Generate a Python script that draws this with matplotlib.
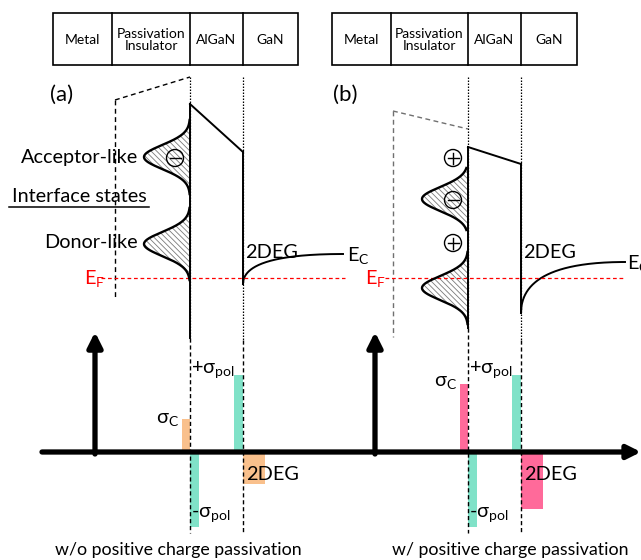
import numpy as np
import matplotlib
matplotlib.use("Agg")
import matplotlib.pyplot as plt
from matplotlib.patches import Circle, Rectangle

plt.rcParams['font.family'] = ['Lato', 'DejaVu Sans']
plt.rcParams['hatch.color'] = '#7a7a7a'
plt.rcParams['hatch.linewidth'] = 0.6

# ---------------- data ----------------
layers = ["Metal", "Passivation\nInsulator", "AlGaN", "GaN"]
panel_labels = ["(a)", "(b)"]
captions = ["w/o positive charge passivation", "w/ positive charge passivation"]
# charge bars (pixel heights, + up / - down): sigma_c, -sigma_pol, +sigma_pol, 2DEG
charge_names = ["σc", "-σpol", "+σpol", "2DEG"]
charges_a = [33, -75, 77, -32]
charges_b = [68, -75, 77, -57]
charge_colors_a = ["#F9C08C", "#80E2C8", "#80E2C8", "#F9C08C"]
charge_colors_b = ["#FF6A9A", "#80E2C8", "#80E2C8", "#FF6A9A"]
# interface state gaussians: (centre y, amplitude, half extent)
states_a = [(157, 46, 37), (244, 46, 36)]
states_b = [(199, 46, 31), (288, 46, 36)]
signs_a = [("−", 158)]
signs_b = [("+", 158), ("−", 200), ("+", 243)]

# ---------------- figure ----------------
fig = plt.figure(figsize=(6.41, 5.60), dpi=100)
ax = fig.add_axes([0, 0, 1, 1])
ax.set_xlim(0, 641)
ax.set_ylim(560, 0)
ax.axis('off')

FS = 12.8
FS_SIDE = 14.3


def layer_box(x_edges, y0=13, y1=65):
    ax.add_patch(Rectangle((x_edges[0], y0), x_edges[-1] - x_edges[0], y1 - y0,
                           fill=False, lw=1.2, ec='black'))
    for xe in x_edges[1:-1]:
        ax.plot([xe, xe], [y0, y1], color='black', lw=1.2)
    for i, name in enumerate(layers):
        xc = (x_edges[i] + x_edges[i + 1]) / 2
        ax.text(xc, (y0 + y1) / 2 + 1, name, ha='center', va='center',
                fontsize=10, linespacing=1.05)


def gaussian(xi, yc, amp, half, sig=12.0):
    y = np.linspace(yc - half, yc + half, 200)
    x = xi - amp * np.exp(-0.5 * ((y - yc) / sig) ** 2)
    ax.fill_betweenx(y, x, xi, facecolor='white', edgecolor='#7a7a7a',
                     hatch='\\\\\\\\\\\\', lw=0)
    ax.plot(x, y, color='black', lw=1.7)


def sign_circle(x, y, s):
    ax.add_patch(Circle((x, y), 8.5, fill=False, lw=1.0, ec='black', zorder=4))
    ax.plot([x - 5.5, x + 5.5], [y, y], color='black', lw=1.0, zorder=4)
    if s == "+":
        ax.plot([x, x], [y - 5.5, y + 5.5], color='black', lw=1.0, zorder=4)


def ec_curve(x0, y0, x1, y1):
    t = np.linspace(0, 1, 200)
    f = 2 * np.sqrt(t) - t
    ax.plot(x0 + (x1 - x0) * t, y0 + (y1 - y0) * f, color='black', lw=1.4)


def charge_bars(xi, xg, vals, cols, yaxis=452):
    specs = [(xi - 8, 8), (xi, 9), (xg - 9, 9), (xg, 22)]
    for (x, w), v, c in zip(specs, vals, cols):
        ax.add_patch(Rectangle((x, yaxis), w, -v, color=c, lw=0, zorder=1))


def panel(idx, xi, xg, ins_top_left, ins_top_right, ins_color, ins_bottom,
          al_top, al_bot, ec_start, ec_end, ec_lab_x,
          states, signs, charges, cols, label_x, ef_lab_x, ef_line, arrow_x,
          sigc_x, sigc_y, solid_bottom):
    # interface dotted lines
    ax.plot([xi, xi], [77, solid_bottom], color='black', lw=0.9, ls=(0, (1.2, 1.2)))
    ax.plot([xg, xg], [77, 340], color='black', lw=0.9, ls=(0, (1.2, 1.2)))
    ax.plot([xi, xi], [solid_bottom, 533], color='black', lw=1.0, ls=(0, (3, 2)), zorder=2)
    ax.plot([xg, xg], [340, 533], color='black', lw=1.0, ls=(0, (3, 2)), zorder=2)
    # insulator band (dashed)
    ax.plot([ins_top_left[0], ins_top_right[0]], [ins_top_left[1], ins_top_right[1]],
            color=ins_color, lw=1.0, ls=(0, (3.5, 2.5)))
    ax.plot([ins_top_left[0], ins_top_left[0]], [ins_top_left[1], ins_bottom],
            color=ins_color, lw=1.0, ls=(0, (3.5, 2.5)))
    # AlGaN band
    ax.plot([xi, xi], [al_top, solid_bottom], color='black', lw=1.4)
    ax.plot([xi, xg], [al_top, al_bot], color='black', lw=1.4)
    ax.plot([xg, xg], [al_bot, ec_start], color='black', lw=1.4)
    ec_curve(xg, ec_start, ec_end[0], ec_end[1])
    ax.text(ec_lab_x, ec_end[1] + 2, "E$_\\mathregular{C}$", fontsize=FS_SIDE,
            va='center', ha='left')
    ax.text(xg + 2, 253, "2DEG", fontsize=FS_SIDE, va='center', ha='left')
    # Fermi level
    ax.plot(ef_line, [278, 278], color='red', lw=0.9, ls=(0, (3, 2.2)))
    ax.text(ef_lab_x, 279, "E$_\\mathregular{F}$", color='red', fontsize=FS_SIDE,
            va='center', ha='left')
    # interface states
    for yc, amp, half in states:
        gaussian(xi, yc, amp, half)
    for s, y in signs:
        sign_circle(xi - 15, y, s)
    # panel label
    ax.text(label_x, 95, panel_labels[idx], fontsize=16, va='center', ha='left')
    # charge distribution
    ax.annotate('', xy=(arrow_x, 332), xytext=(arrow_x, 454),
                arrowprops=dict(arrowstyle='-|>', lw=3.8, color='black',
                                mutation_scale=22, shrinkA=0, shrinkB=0))
    charge_bars(xi, xg, charges, cols)
    ax.text(sigc_x, sigc_y, "σ$_\\mathregular{C}$", fontsize=FS_SIDE, va='center', ha='right')
    ax.text(xi + 1, 370, "+σ$_\\mathregular{pol}$", fontsize=FS_SIDE, va='center', ha='left')
    ax.text(xi + 1, 515, "-σ$_\\mathregular{pol}$", fontsize=FS_SIDE, va='center', ha='left')
    ax.text(xg + 3, 475, "2DEG", fontsize=FS_SIDE, va='center', ha='left')


layer_box([53, 112, 190, 243, 298])
layer_box([332, 391, 468, 521, 577])

# horizontal axis
ax.annotate('', xy=(641, 452), xytext=(42, 452),
            arrowprops=dict(arrowstyle='-|>', lw=3.8, color='black',
                            mutation_scale=20, shrinkA=0, shrinkB=0), zorder=3)

panel(0, 190, 243, (115, 100), (190, 77), 'black', 300,
      104, 152, 284, (343, 254), 347,
      states_a, signs_a, charges_a, charge_colors_a, 50, 84, [101, 345], 95,
      179, 420, 338)
panel(1, 468, 521, (393, 111), (468, 129), '#707070', 337,
      147, 164, 313, (625, 262), 627,
      states_b, signs_b, charges_b, charge_colors_b, 333, 365, [385, 625], 375,
      457, 383, 328)

# left-side annotations
ax.text(138, 157, "Acceptor-like", fontsize=FS_SIDE, va='center', ha='right')
ax.text(138, 243, "Donor-like", fontsize=FS_SIDE, va='center', ha='right')
ax.text(79, 197, "Interface states", fontsize=FS_SIDE, va='center', ha='center')
ax.plot([9, 149], [207, 207], color='black', lw=1.1)

ax.text(178, 550, captions[0], fontsize=FS, va='center', ha='center')
ax.text(510, 550, captions[1], fontsize=FS, va='center', ha='center')

fig.savefig("out.png", dpi=100)
